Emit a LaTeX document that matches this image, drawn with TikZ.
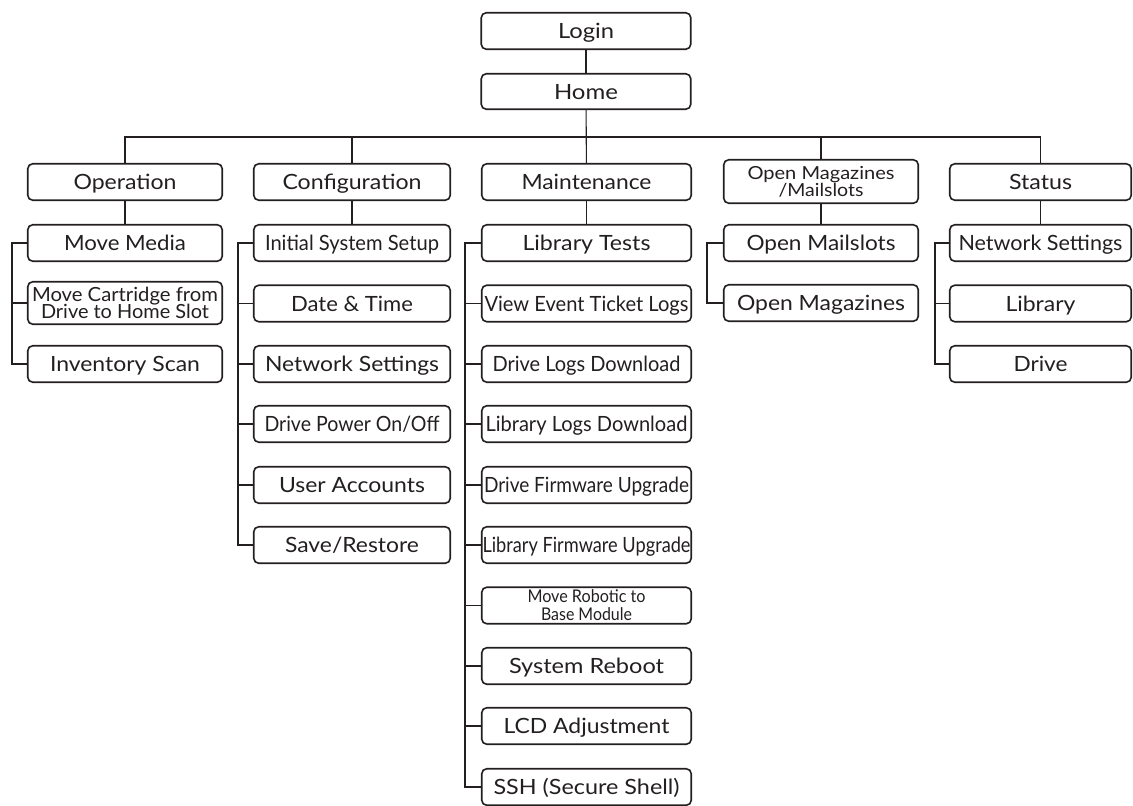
\documentclass[tikz,border=0pt]{standalone}
\usepackage{fontspec}
\setmainfont{Lato}
\usepackage{graphicx}
\definecolor{ink}{RGB}{35,31,32}
\newsavebox\fitbox
\newsavebox\capsbox
\newcommand\fitw[2]{\sbox\fitbox{#2}\pgfmathsetmacro\fitsx{(#1+2)/\the\wd\fitbox}\scalebox{\fitsx}[1]{\usebox\fitbox}}
\newcommand\capb[1]{\sbox\capsbox{H}\raisebox{0pt}[\ht\capsbox][0pt]{#1}}
\newcommand\lab[2]{\capb{\fitw{#1}{#2}}}
\tikzset{
  box/.style={draw=ink, line width=1.6pt, rounded corners=5pt, inner sep=0pt, text=ink,
    minimum height=36.5pt, font=\fontsize{21}{21}\selectfont},
  colA/.style={box, minimum width=194.5pt},
  colB/.style={box, minimum width=196.5pt},
  colC/.style={box, minimum width=209.5pt},
  colD/.style={box, minimum width=194.5pt},
  colE/.style={box, minimum width=181.5pt},
  wire/.style={draw=ink, line width=1.1pt},
}
\begin{document}
\begin{tikzpicture}[x=1pt,y=-1pt]
\useasboundingbox (0,0) rectangle (1133,806);
% top
\node[colC] (login) at (586,31) {\lab{54}{Login}};
\node[colC, minimum height=35.5pt] (home) at (586,91.5) {\lab{62}{Home}};
% level 1
\node[colA] (oper) at (125,182) {\lab{101}{Operation}};
\node[colB] (conf) at (352,182) {\lab{137}{Configuration}};
\node[colC] (maint) at (586.5,182) {\lab{128}{Maintenance}};
\node[colD, minimum height=43.5pt, align=center, font=\fontsize{18}{17}\selectfont] (omag) at (821,181.5)
  {\lab{145}{Open Magazines}\\\lab{83}{/Mailslots}};
\node[colE] (stat) at (1040.5,182) {\lab{61}{Status}};
% operation
\node[colA] (mm) at (125,243) {\lab{120}{Move Media}};
\node[colA, minimum height=42.5pt, align=center, font=\fontsize{19.5}{17}\selectfont] (mc) at (125,303)
  {\lab{184}{Move Cartridge from}\\\lab{166}{Drive to Home Slot}};
\node[colA] (inv) at (125,364) {\lab{148}{Inventory Scan}};
% configuration
\node[colB] (c1) at (352,243) {\lab{172}{Initial System Setup}};
\node[colB] (c2) at (352,303.5) {\lab{120}{Date \& Time}};
\node[colB] (c3) at (352,364) {\lab{172}{Network Settings}};
\node[colB] (c4) at (352,424) {\lab{173}{Drive Power On/Off}};
\node[colB] (c5) at (352,485) {\lab{144}{User Accounts}};
\node[colB] (c6) at (352,545) {\lab{132}{Save/Restore}};
% maintenance
\node[colC] (m1) at (586.5,243) {\lab{126}{Library Tests}};
\node[colC] (m2) at (586.5,303.5) {\lab{202}{View Event Ticket Logs}};
\node[colC] (m3) at (586.5,364) {\lab{186}{Drive Logs Download}};
\node[colC] (m4) at (586.5,424) {\lab{200}{Library Logs Download}};
\node[colC] (m5) at (586.5,485) {\lab{203}{Drive Firmware Upgrade}};
\node[colC] (m6) at (586.5,545) {\lab{206}{Library Firmware Upgrade}};
\node[colC, align=center, font=\fontsize{17.5}{18}\selectfont] (m7) at (586.5,605.5)
  {\lab{116}{Move Robotic to}\\\lab{89}{Base Module}};
\node[colC] (m8) at (586.5,666) {\lab{153}{System Reboot}};
\node[colC] (m9) at (586.5,726) {\lab{164}{LCD Adjustment}};
\node[colC] (m10) at (586.5,787) {\lab{184}{SSH (Secure Shell)}};
% open magazines
\node[colD] (om1) at (821,243) {\lab{147}{Open Mailslots}};
\node[colD] (om2) at (821,303) {\lab{166}{Open Magazines}};
% status
\node[colE] (s1) at (1040.5,243) {\lab{162}{Network Settings}};
\node[colE] (s2) at (1040.5,303.5) {\lab{68}{Library}};
\node[colE] (s3) at (1040.5,364) {\lab{52}{Drive}};
% connectors
\coordinate (bus) at (586,137);
\draw[wire] (login) -- (home);
\draw[wire] (home) -- (maint);
\draw[wire] (oper.north) |- (bus) -| (stat.north);
\draw[wire] (conf.north) -- (conf.north |- bus);
\draw[wire] (omag.north) -- (omag.north |- bus);
\draw[wire] (oper) -- (mm);
\draw[wire] (mm.west) -- ++(-15,0) |- (inv.west);
\draw[wire] (mc.west) -- ++(-15,0);
\draw[wire] (conf) -- (c1);
\draw[wire] (c1.west) -- ++(-15,0) |- (c6.west);
\foreach \n in {c2,c3,c4,c5} \draw[wire] (\n.west) -- ++(-15,0);
\draw[wire] (maint) -- (m1);
\draw[wire] (m1.west) -- ++(-16,0) |- (m10.west);
\foreach \n in {m2,m3,m4,m5,m6,m7,m8,m9} \draw[wire] (\n.west) -- ++(-16,0);
\draw[wire] (omag) -- (om1);
\draw[wire] (om1.west) -- ++(-16,0) |- (om2.west);
\draw[wire] (stat) -- (s1);
\draw[wire] (s1.west) -- ++(-14,0) |- (s3.west);
\draw[wire] (s2.west) -- ++(-14,0);
\end{tikzpicture}
\end{document}
